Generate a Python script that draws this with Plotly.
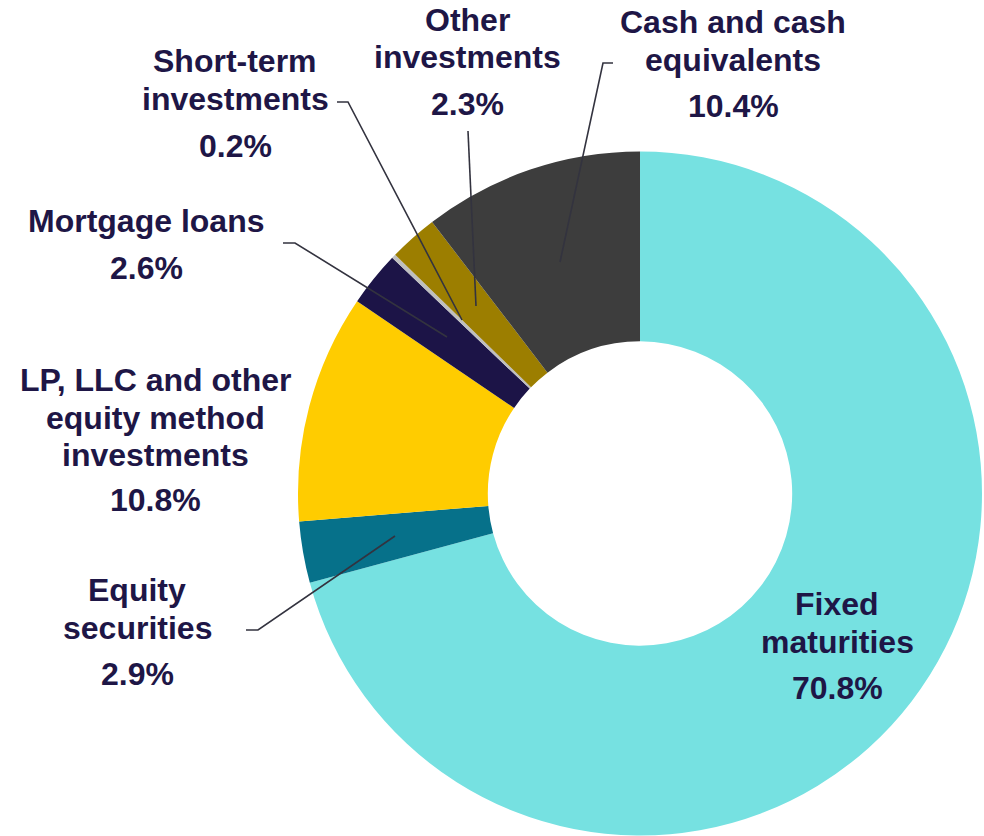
import plotly.graph_objects as go

W, H = 984, 836

categories = ["Fixed maturities", "Equity securities",
              "LP, LLC and other equity method investments", "Mortgage loans",
              "Short-term investments", "Other investments", "Cash and cash equivalents"]
values = [70.8, 2.9, 10.8, 2.6, 0.2, 2.3, 10.4]
name_lines = [["Fixed", "maturities"], ["Equity", "securities"],
              ["LP, LLC and other", "equity method", "investments"], ["Mortgage loans"],
              ["Short-term", "investments"], ["Other", "investments"], ["Cash and cash", "equivalents"]]
pct_labels = [f"{v:.1f}%" for v in values]
colors = ["#76E1E1", "#06718A", "#FFCC00", "#1C1447", "#BFBFBF", "#9C7E00", "#3D3D3D"]

TEXT = "#1E1646"
FONT = "Liberation Sans, Arial, sans-serif"

def px(x):
    return x / W

def py(y):
    return 1 - y / H

# label layout (pixel positions): center x, first-line center y, pct center y
label_pos = [
    (837, 604, 688),
    (137, 590, 674),
    (155, 380, 500),
    (146, 221, 268),
    (235, 61, 146),
    (467, 20, 104),
    (733, 22, 106),
]
leaders = [
    None,
    [(246, 630), (258, 630), (395, 536)],
    None,
    [(283, 243), (295, 243), (447, 337)],
    [(337, 102), (348, 102), (462, 320)],
    [(468, 131), (476, 306)],
    [(613, 63), (603, 63), (560, 262)],
]

cx, cy, R = 640, 493.5, 342
fig = go.Figure(go.Pie(
    labels=categories, values=values, sort=False, direction="clockwise", rotation=0,
    hole=0.445, marker=dict(colors=colors, line=dict(width=0)),
    textinfo="none", showlegend=False,
    domain=dict(x=[px(cx - R), px(cx + R)], y=[py(cy + R), py(cy - R)]),
))

LH = 37.5
annotations = []
shapes = []
for i, cat in enumerate(categories):
    x, y0, yp = label_pos[i]
    for j, line in enumerate(name_lines[i]):
        annotations.append(dict(x=px(x), y=py(y0 + j * LH), xref="paper", yref="paper",
                                text=f"<b>{line}</b>", showarrow=False,
                                xanchor="center", yanchor="middle",
                                font=dict(family=FONT, size=32, color=TEXT)))
    annotations.append(dict(x=px(x), y=py(yp), xref="paper", yref="paper",
                            text=f"<b>{pct_labels[i]}</b>", showarrow=False,
                            xanchor="center", yanchor="middle",
                            font=dict(family=FONT, size=32, color=TEXT)))
    if leaders[i]:
        pts = leaders[i]
        path = "M " + " L ".join(f"{px(a)},{py(b)}" for a, b in pts)
        shapes.append(dict(type="path", path=path, xref="paper", yref="paper",
                           line=dict(color="#33333F", width=1.6)))

fig.update_layout(
    width=W, height=H, margin=dict(l=0, r=0, t=0, b=0),
    paper_bgcolor="white", plot_bgcolor="white",
    annotations=annotations, shapes=shapes,
)

fig.write_html("out.html", config={"displayModeBar": False},
               post_script="document.body.style.margin='0';document.body.style.overflow='hidden';")
